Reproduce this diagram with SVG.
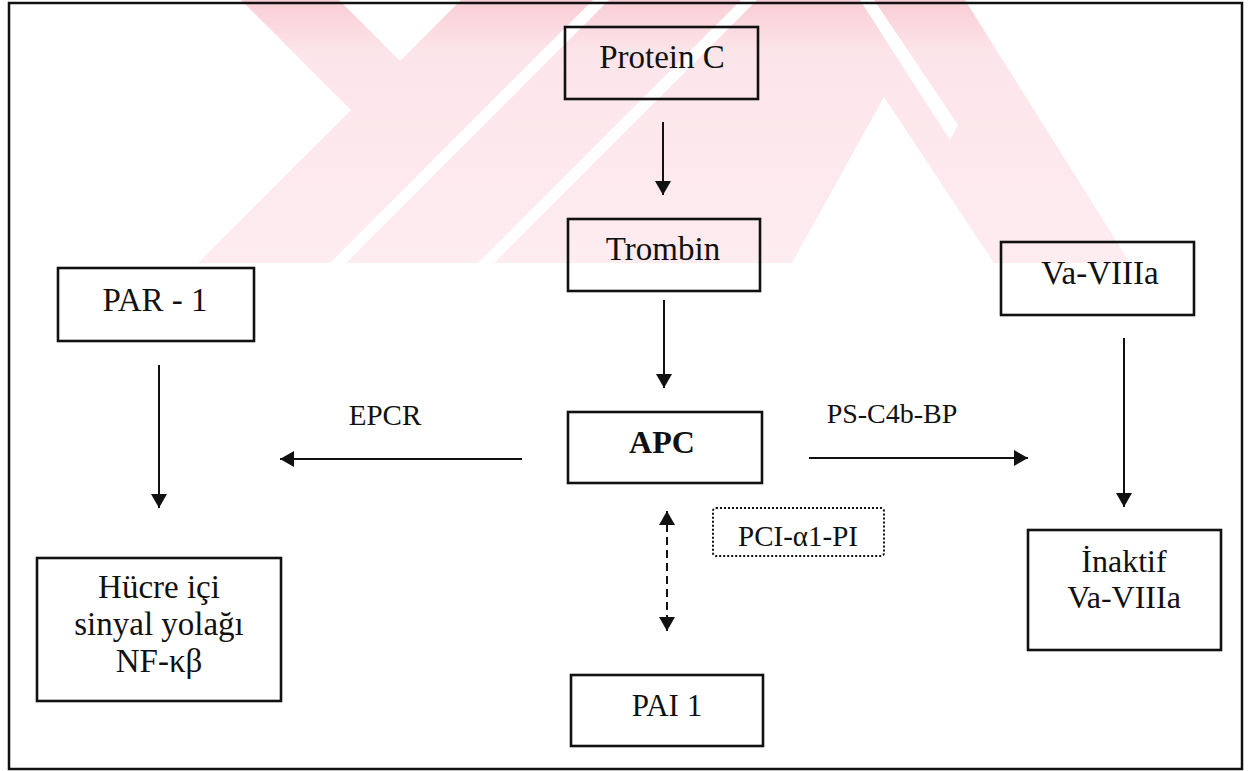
<svg xmlns="http://www.w3.org/2000/svg" width="1254" height="771" viewBox="0 0 1254 771">
<style>
.box{fill:none;stroke:#111;stroke-width:2.6}
.dot{fill:none;stroke:#111;stroke-width:2;stroke-dasharray:2 2}
.t{font-family:"Liberation Serif","Times New Roman",serif;fill:#111;text-anchor:middle}
.c{stroke:#111;stroke-width:2;fill:none}
.wm{fill:url(#wmgrad)}
.gap{fill:#fff}
</style>
<defs>
<marker id="a" viewBox="0 0 14 16" refX="14" refY="8" markerWidth="14" markerHeight="16" markerUnits="userSpaceOnUse" orient="auto-start-reverse">
<path d="M0,0 L14,8 L0,16 z" fill="#111"/>
</marker>
<linearGradient id="wmgrad" x1="0" y1="0" x2="0" y2="263" gradientUnits="userSpaceOnUse">
<stop offset="0" stop-color="#f9cdd5"/>
<stop offset="0.2" stop-color="#fce5ea"/>
<stop offset="1" stop-color="#fdecf0"/>
</linearGradient>
<clipPath id="wmclip"><rect x="0" y="0" width="1254" height="263"/></clipPath>
</defs>
<rect width="1254" height="771" fill="#fff"/>
<g id="watermark" clip-path="url(#wmclip)">
<polygon class="wm" points="241,0 339,0 602,263 504,263"/>
<polygon class="wm" points="198,263 792,263 884,97 994,263 1130,263 965,0 461,0"/>
<polygon class="gap" points="330,263 346,263 609,0 593,0"/>
<polygon class="gap" points="478,263 494,263 757,0 741,0"/>
<polygon class="gap" points="860,0 874,0 958,125 950,140"/>
</g>
<rect x="9" y="3" width="1233" height="766" fill="none" stroke="#111" stroke-width="2.5"/>
<g id="connectors">
<line class="c" x1="663" y1="122" x2="663" y2="195" marker-end="url(#a)"/>
<line class="c" x1="664" y1="300" x2="664" y2="388" marker-end="url(#a)"/>
<line class="c" x1="522" y1="459" x2="280" y2="459" marker-end="url(#a)"/>
<line class="c" x1="809" y1="458" x2="1028" y2="458" marker-end="url(#a)"/>
<line class="c" x1="159" y1="365" x2="159" y2="508" marker-end="url(#a)"/>
<line class="c" x1="1124" y1="338" x2="1124" y2="507" marker-end="url(#a)"/>
<line class="c" x1="667" y1="511" x2="667" y2="631" stroke-dasharray="8 5" marker-start="url(#a)" marker-end="url(#a)"/>
</g>
<g id="protein-c"><rect class="box" x="565" y="27" width="193" height="72"/><text class="t" x="662" y="68" font-size="33">Protein C</text></g>
<g id="trombin"><rect class="box" x="568" y="219" width="192" height="72"/><text class="t" x="663" y="260" font-size="33">Trombin</text></g>
<g id="va-viiia"><rect class="box" x="1001" y="242" width="193" height="73"/><text class="t" x="1100" y="284" font-size="33">Va-VIIIa</text></g>
<g id="par-1"><rect class="box" x="58" y="268" width="196" height="73"/><text class="t" x="155" y="311" font-size="33">PAR - 1</text></g>
<g id="apc"><rect class="box" x="568" y="412" width="194" height="71"/><text class="t" x="662" y="453" font-size="32" font-weight="bold">APC</text></g>
<g id="epcr-label"><text class="t" x="385" y="425" font-size="29">EPCR</text></g>
<g id="ps-label"><text class="t" x="892" y="423" font-size="28">PS-C4b-BP</text></g>
<g id="pci"><rect class="dot" x="713" y="508" width="171" height="48" rx="3"/><text class="t" x="798" y="546" font-size="29">PCI-α1-PI</text></g>
<g id="pai-1"><rect class="box" x="571" y="675" width="192" height="71"/><text class="t" x="667" y="716" font-size="31">PAI 1</text></g>
<g id="hucre"><rect class="box" x="37" y="558" width="244" height="143"/><text class="t" font-size="33"><tspan x="159" y="598">Hücre içi</tspan><tspan x="159" y="635">sinyal yolağı</tspan><tspan x="159" y="672">NF-κβ</tspan></text></g>
<g id="inaktif"><rect class="box" x="1028" y="530" width="193" height="120"/><text class="t" font-size="32"><tspan x="1124" y="572">İnaktif</tspan><tspan x="1124" y="608">Va-VIIIa</tspan></text></g>
</svg>
